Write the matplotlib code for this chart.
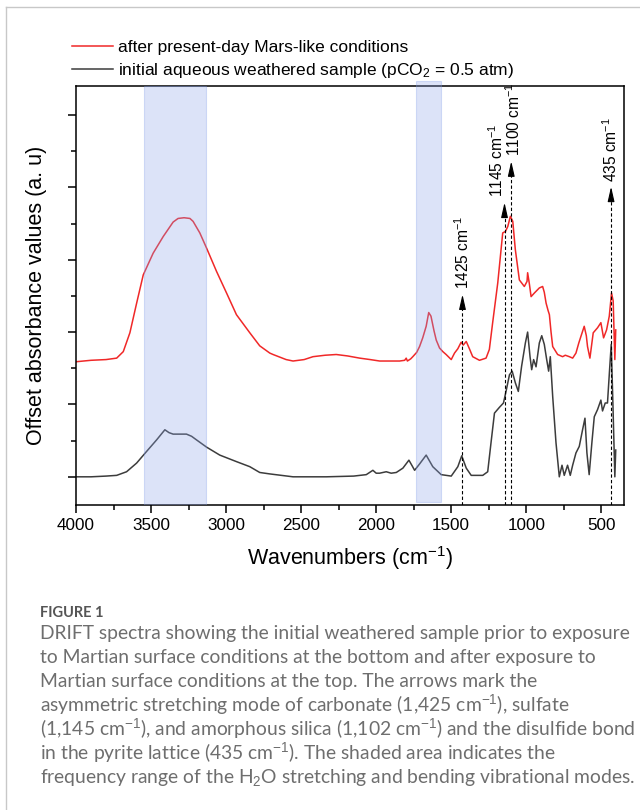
import matplotlib
matplotlib.use('Agg')
import matplotlib.pyplot as plt
from matplotlib.lines import Line2D
from matplotlib.ticker import MultipleLocator, AutoMinorLocator

plt.rcParams['font.family'] = ['Liberation Sans', 'DejaVu Sans']
plt.rcParams['mathtext.fontset'] = 'custom'
plt.rcParams['mathtext.rm'] = 'Liberation Sans'
plt.rcParams['mathtext.it'] = 'Liberation Sans:italic'

# espectro despues de condiciones marcianas (rojo)
wn_mars = [4000, 3900, 3800, 3729, 3685, 3641, 3596, 3552, 3486, 3419, 3353, 3320, 3280, 3241,
           3220, 3175, 3130, 3064, 2997, 2931, 2842, 2776, 2709, 2687, 2600, 2554, 2480, 2421,
           2340, 2266, 2190, 2110, 2040, 1977, 1900, 1844, 1810, 1800, 1792, 1770, 1756, 1730,
           1711, 1690, 1667, 1650, 1635, 1615, 1600, 1578, 1556, 1534, 1500, 1478, 1456, 1434,
           1420, 1400, 1379, 1357, 1312, 1268, 1246, 1224, 1190, 1157, 1139, 1123, 1106, 1090,
           1073, 1046, 1013, 995, 991, 979, 968, 946, 913, 891, 880, 868, 855, 846, 835, 824,
           791, 758, 740, 713, 691, 669, 650, 636, 614, 600, 592, 576, 554, 525, 503, 485, 465,
           447, 432, 421, 410, 404]
abs_mars = [1.59, 1.61, 1.62, 1.64, 1.73, 1.99, 2.40, 2.79, 3.09, 3.32, 3.52, 3.57, 3.58, 3.57,
            3.53, 3.37, 3.16, 2.84, 2.54, 2.24, 1.99, 1.81, 1.71, 1.69, 1.62, 1.60, 1.62, 1.66,
            1.68, 1.69, 1.67, 1.64, 1.62, 1.60, 1.60, 1.60, 1.61, 1.64, 1.60, 1.63, 1.66, 1.72,
            1.80, 1.92, 2.08, 2.27, 2.22, 2.02, 1.89, 1.78, 1.73, 1.69, 1.62, 1.71, 1.77, 1.86,
            1.82, 1.87, 1.77, 1.66, 1.61, 1.64, 1.76, 2.13, 2.68, 3.37, 3.39, 3.46, 3.60, 3.53,
            3.14, 2.72, 2.63, 2.70, 2.82, 2.66, 2.49, 2.54, 2.61, 2.63, 2.55, 2.40, 2.30, 2.24,
            2.00, 1.80, 1.69, 1.66, 1.68, 1.66, 1.64, 1.71, 1.85, 1.94, 2.08, 1.95, 1.80, 1.64,
            1.99, 2.06, 2.13, 1.92, 2.03, 2.22, 2.54, 2.43, 1.62, 2.03]

# muestra inicial meteorizada (gris)
wn_init = [4000, 3900, 3800, 3729, 3663, 3596, 3530, 3463, 3408, 3380, 3353, 3264, 3230, 3197,
           3130, 3042, 2931, 2842, 2776, 2709, 2554, 2332, 2150, 2066, 2022, 2000, 1977, 1933,
           1900, 1866, 1822, 1782, 1760, 1744, 1710, 1667, 1645, 1623, 1567, 1500, 1456, 1430,
           1400, 1367, 1290, 1257, 1235, 1212, 1179, 1152, 1135, 1112, 1094, 1073, 1053, 1031,
           1006, 991, 975, 964, 951, 935, 913, 897, 880, 864, 851, 840, 824, 802, 780, 762, 747,
           725, 707, 691, 669, 647, 625, 609, 596, 581, 563, 547, 525, 503, 492, 474, 459, 445,
           434, 423, 410, 404]
abs_init = [0.00, 0.00, 0.01, 0.02, 0.07, 0.19, 0.35, 0.51, 0.65, 0.61, 0.59, 0.59, 0.56, 0.51,
            0.41, 0.30, 0.21, 0.14, 0.06, 0.04, 0.00, 0.00, 0.01, 0.03, 0.09, 0.05, 0.05, 0.07,
            0.05, 0.06, 0.12, 0.23, 0.15, 0.09, 0.18, 0.30, 0.22, 0.14, 0.03, 0.01, 0.14, 0.29,
            0.12, 0.02, 0.02, 0.07, 0.47, 0.88, 0.96, 1.02, 1.18, 1.41, 1.46, 1.30, 1.18, 1.53,
            1.85, 2.00, 1.66, 1.48, 1.62, 1.52, 1.85, 1.95, 1.83, 1.62, 1.46, 1.66, 1.11, 0.47,
            0.00, 0.16, 0.02, 0.16, 0.02, 0.16, 0.33, 0.42, 0.65, 0.81, 0.33, 0.03, 0.47, 0.83,
            0.93, 1.06, 0.91, 1.02, 1.02, 1.48, 1.83, 1.02, 0.00, 0.37]

# bandas de H2O (stretching y bending)
h2o_bands = [(3548, 3137), (1736, 1567)]

# flechas: posicion, punta de la flecha, posicion x del texto
marker_wn = [1425, 1145, 1100, 435]
marker_tip = [2.52, 3.79, 4.36, 4.01]
marker_text_x = [1425, 1200, 1083, 435]
marker_labels = ['1425 cm$^{-1}$', '1145 cm$^{-1}$', '1100 cm$^{-1}$', '435 cm$^{-1}$']

caption_lines = [
    'DRIFT spectra showing the initial weathered sample prior to exposure',
    'to Martian surface conditions at the bottom and after exposure to',
    'Martian surface conditions at the top. The arrows mark the',
    'asymmetric stretching mode of carbonate (1,425 cm$^{-1}$), sulfate',
    '(1,145 cm$^{-1}$), and amorphous silica (1,102 cm$^{-1}$) and the disulfide bond',
    'in the pyrite lattice (435 cm$^{-1}$). The shaded area indicates the',
    'frequency range of the H$_2$O stretching and bending vibrational modes.',
]

ylo, yhi = -0.39, 5.40

fig = plt.figure(figsize=(6.4, 8.1), dpi=100)
ax = fig.add_axes([0.11875, 0.3765, 0.856, 0.5173])

ax.plot(wn_mars, abs_mars, color='#f02828', lw=1.1, label='after present-day Mars-like conditions')
ax.plot(wn_init, abs_init, color='#3c3c3c', lw=1.1,
        label='initial aqueous weathered sample (pCO$_2$ = 0.5 atm)')

# bandas sombreadas por encima de las curvas
b1 = ax.axvspan(h2o_bands[0][0], h2o_bands[0][1], facecolor='#8ca5ea', alpha=0.3,
                edgecolor='#7f98e8', lw=0.8, zorder=3)
b2 = ax.axvspan(h2o_bands[1][0], h2o_bands[1][1], ymin=0.007, ymax=1.013, facecolor='#8ca5ea',
                alpha=0.3, edgecolor='#7f98e8', lw=0.8, zorder=3)
b2.set_clip_on(False)

for wn, tip, tx, lab in zip(marker_wn, marker_tip, marker_text_x, marker_labels):
    ax.plot([wn, wn], [ylo, tip - 0.1], color='black', lw=0.8, ls=(0, (3, 2)), zorder=4)
    ax.annotate('', xy=(wn, tip), xytext=(wn, tip - 0.12),
                arrowprops=dict(arrowstyle='-|>,head_length=0.75,head_width=0.17', color='black',
                                lw=0.8, shrinkA=0, shrinkB=0, mutation_scale=12), zorder=4)
    ax.text(tx, tip + 0.07, lab, rotation=90, ha='center', va='bottom', fontsize=11.2,
            clip_on=False)

ax.set_xlim(4000, 350)
ax.set_ylim(ylo, yhi)
ax.xaxis.set_major_locator(MultipleLocator(500))
ax.xaxis.set_minor_locator(AutoMinorLocator(2))
ax.yaxis.set_major_locator(MultipleLocator(1))
ax.yaxis.set_minor_locator(AutoMinorLocator(2))
ax.tick_params(which='both', direction='out', top=False, right=False, width=1.1)
ax.tick_params(which='major', length=6, labelsize=12.3)
ax.tick_params(which='minor', length=3.5)
ax.tick_params(axis='y', labelleft=False)
for s in ax.spines.values():
    s.set_linewidth(1.1)

ax.set_xlabel('Wavenumbers (cm$^{-1}$)', fontsize=15.5, labelpad=8)
ax.set_ylabel('Offset absorbance values (a. u)', fontsize=15.5, labelpad=14)

fig.legend(loc='upper left', bbox_to_anchor=(0.1125, 0.951), frameon=False, fontsize=12.5,
           handlelength=2.35, handletextpad=0.3, labelspacing=0.38, borderpad=0,
           borderaxespad=0)

# marco gris de la pagina
fig.add_artist(Line2D([6 / 640, 6 / 640], [0, 1 - 7 / 810], transform=fig.transFigure,
                      color='#c8c8c8', lw=1))
fig.add_artist(Line2D([6 / 640, 1], [1 - 7 / 810, 1 - 7 / 810], transform=fig.transFigure,
                      color='#c8c8c8', lw=1))

# pie de figura
fig.text(40 / 640, 1 - 613 / 810, 'FIGURE 1', fontsize=10.5, fontweight='bold',
         color='#555555', va='center', family=['Lato', 'DejaVu Sans'])
for i, line in enumerate(caption_lines):
    fig.text(40 / 640, 1 - (633 + 24 * i) / 810, line, fontsize=13.9, color='#6e6e6e',
             va='center', family=['Lato', 'DejaVu Sans'])

fig.savefig('out.png', dpi=100)
